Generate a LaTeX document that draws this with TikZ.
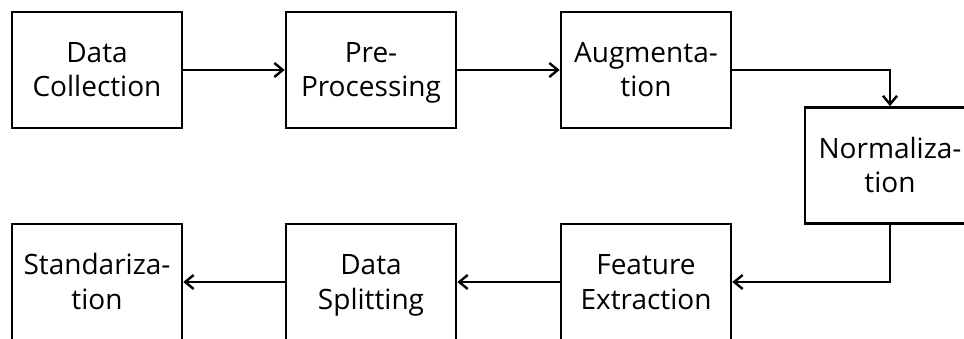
\documentclass[tikz,border=0pt]{standalone}
\usepackage{fontspec}
\setmainfont{Open Sans}
\usetikzlibrary{arrows.meta}
\newcommand\boxlines[3]{%
  \node[txt] (#1-a) at ([yshift=7pt]#1.center) {#2};
  \node[txt] (#1-b) at ([yshift=-27pt]#1.center) {#3};}
\begin{document}
\begin{tikzpicture}[x=1pt,y=-1pt,
  box/.style={draw=black,line width=2.6pt,minimum width=170pt,minimum height=116pt,inner sep=0pt},
  txt/.style={anchor=base,inner sep=0pt,font=\fontsize{28}{34}\selectfont,text=black},
  link/.style={line width=2.6pt,-{Straight Barb[length=8.5pt,width=14pt,line width=2.4pt]}}]
\useasboundingbox (0,0) rectangle (964,339);
\clip (0,0) rectangle (964,339);
\node[box] (dc) at (97,70) {};
\node[box] (pp) at (371,70) {};
\node[box] (au) at (646,70) {};
\node[box] (no) at (890,165.5) {};
\node[box] (fe) at (646,282) {};
\node[box] (ds) at (371,282) {};
\node[box] (st) at (97,282) {};
\boxlines{dc}{Data}{Collection}
\boxlines{pp}{Pre-}{Processing}
\boxlines{au}{Augmenta-}{tion}
\boxlines{no}{Normaliza-}{tion}
\boxlines{fe}{Feature}{Extraction}
\boxlines{ds}{Data}{Splitting}
\boxlines{st}{Standariza-}{tion}
\draw[link] (dc.east) -- (pp.west);
\draw[link] (pp.east) -- (au.west);
\draw[link] (au.east) -| (no.north);
\draw[link] (no.south) |- (fe.east);
\draw[link] (fe.west) -- (ds.east);
\draw[link] (ds.west) -- (st.east);
\end{tikzpicture}
\end{document}
